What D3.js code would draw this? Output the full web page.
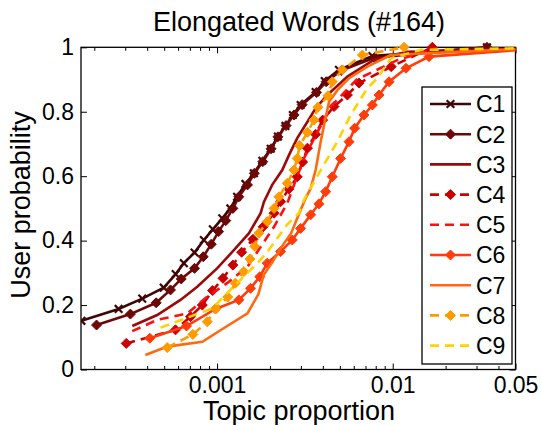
<!DOCTYPE html>
<html>
<head>
<meta charset="utf-8">
<script src="https://cdn.jsdelivr.net/npm/d3@7"></script>
<style>
  html, body { margin: 0; padding: 0; background: #fff; }
  svg { display: block; font-family: "Liberation Sans", Arial, sans-serif; }
</style>
</head>
<body>
<svg id="chart" width="542" height="425"></svg>
<script>
// ---- data ----
const seriesNames = ["C1", "C2", "C3", "C4", "C5", "C6", "C7", "C8", "C9"];
const seriesColors = ["#3f0606", "#6e0808", "#9a0a0a", "#cc0000", "#ff1010", "#ff3c0a", "#ff6a10", "#ff9a00", "#ffd200"];
const seriesDash = [false, false, false, true, true, false, false, true, true];
const seriesMarker = ["x", "d", null, "d", null, "d", null, "d", null];

const xTicks = [0.001, 0.01, 0.05];
const xTickLabels = ["0.001", "0.01", "0.05"];
const yTicks = [0, 0.2, 0.4, 0.6, 0.8, 1];
const yTickLabels = ["0", "0.2", "0.4", "0.6", "0.8", "1"];

const c1 = [[0.000169,0.151],[0.000275,0.188],[0.000375,0.22],[0.000497,0.254],[0.000581,0.296],[0.000647,0.33],[0.000744,0.363],[0.000841,0.402],[0.000946,0.435],[0.00107,0.469],[0.00119,0.5],[0.0013,0.536],[0.00145,0.576],[0.00162,0.609],[0.00181,0.648],[0.00202,0.685],[0.00222,0.723],[0.00245,0.756],[0.0027,0.79],[0.00299,0.821],[0.00364,0.861],[0.0041,0.895],[0.00494,0.93],[0.00766,0.973],[0.0344,1.0]];
const c2 = [[0.000206,0.138],[0.000321,0.172],[0.00045,0.207],[0.000543,0.247],[0.000625,0.281],[0.000744,0.314],[0.000834,0.35],[0.000927,0.389],[0.00102,0.428],[0.00112,0.462],[0.00123,0.5],[0.00133,0.536],[0.00149,0.573],[0.00163,0.609],[0.00182,0.645],[0.00203,0.685],[0.00222,0.722],[0.00247,0.757],[0.00274,0.79],[0.00305,0.822],[0.00368,0.86],[0.00418,0.893],[0.0051,0.928],[0.0079,0.968],[0.0344,1.0]];
const c3 = [[0.000329,0.135],[0.000456,0.169],[0.000619,0.216],[0.000771,0.257],[0.00100,0.314],[0.00125,0.371],[0.00152,0.423],[0.00177,0.485],[0.00185,0.521],[0.00206,0.573],[0.00235,0.619],[0.00257,0.666],[0.00286,0.718],[0.00327,0.769],[0.00364,0.811],[0.00425,0.852],[0.00552,0.909],[0.00779,0.961],[0.0121,0.986],[0.07,0.998]];
const c4 = [[0.000304,0.081],[0.00058,0.123],[0.000706,0.164],[0.000824,0.2],[0.000943,0.245],[0.00108,0.283],[0.00123,0.324],[0.00138,0.364],[0.0016,0.404],[0.00183,0.443],[0.00211,0.485],[0.0023,0.521],[0.00256,0.56],[0.00286,0.598],[0.00307,0.644],[0.00327,0.687],[0.00364,0.73],[0.00399,0.774],[0.00463,0.816],[0.00552,0.852],[0.00643,0.889],[0.0098,0.94],[0.0168,1.0]];
const c5 = [[0.000329,0.119],[0.000456,0.154],[0.000676,0.174],[0.00088,0.226],[0.00114,0.268],[0.00149,0.319],[0.00177,0.381],[0.00211,0.443],[0.00251,0.516],[0.00312,0.655],[0.00443,0.815],[0.00623,0.9],[0.0106,0.96],[0.018,0.998]];
const c6 = [[0.000414,0.097],[0.00067,0.135],[0.00098,0.188],[0.00133,0.216],[0.00155,0.252],[0.00175,0.288],[0.00193,0.33],[0.0023,0.366],[0.00268,0.402],[0.00299,0.438],[0.00341,0.48],[0.0038,0.514],[0.00415,0.552],[0.00453,0.598],[0.00505,0.655],[0.00564,0.707],[0.00607,0.749],[0.00686,0.79],[0.00766,0.821],[0.00836,0.852],[0.00953,0.893],[0.0119,0.935],[0.0161,0.971],[0.075,0.998]];
const c7 = [[0.000391,0.045],[0.00052,0.071],[0.000824,0.086],[0.00109,0.128],[0.00149,0.174],[0.00172,0.234],[0.00184,0.293],[0.00207,0.334],[0.0023,0.376],[0.00264,0.423],[0.00299,0.495],[0.00319,0.531],[0.00341,0.562],[0.00364,0.619],[0.00389,0.707],[0.0041,0.769],[0.00434,0.831],[0.00484,0.867],[0.00564,0.904],[0.00717,0.94],[0.00974,0.976],[0.07,0.998]];
const c8 = [[0.00052,0.068],[0.000728,0.109],[0.00088,0.148],[0.00098,0.188],[0.00115,0.225],[0.00127,0.268],[0.00142,0.304],[0.00154,0.343],[0.00164,0.382],[0.00173,0.423],[0.00193,0.459],[0.00211,0.5],[0.00225,0.536],[0.00251,0.578],[0.00274,0.619],[0.00286,0.655],[0.00295,0.695],[0.00327,0.736],[0.00356,0.774],[0.00375,0.814],[0.00428,0.85],[0.00453,0.893],[0.00517,0.93],[0.00672,0.976],[0.0116,1.0]];
const c9 = [[0.000477,0.13],[0.000939,0.19],[0.0013,0.268],[0.00173,0.335],[0.00197,0.371],[0.00249,0.448],[0.00292,0.485],[0.00312,0.526],[0.00389,0.619],[0.00484,0.707],[0.00576,0.79],[0.00717,0.873],[0.00818,0.904],[0.00974,0.966],[0.0145,0.992],[0.07,0.998]];
const seriesData = [c1, c2, c3, c4, c5, c6, c7, c8, c9];

// ---- layout ----
const svg = d3.select("#chart");
const L = 81, R = 515.5, T = 47.3, B = 369.5;
const x = d3.scaleLog().domain([0.000168, 0.05]).range([L, R]);
const y = d3.scaleLinear().domain([0, 1]).range([B, T]);

// title
svg.append("text").attr("x", 299).attr("y", 31).attr("text-anchor", "middle")
  .attr("font-size", 27).attr("fill", "#000").text("Elongated Words (#164)");

// axes ticks
const minorX = [];
for (let d = 1e-4; d < 0.1; d *= 10) for (let k = 2; k <= 9; k++) {
  const v = +(k * d).toPrecision(3);
  if (v >= 0.000168 && v <= 0.05 && xTicks.indexOf(v) < 0) minorX.push(v);
}

const gx = svg.append("g").attr("transform", `translate(0,${B})`)
  .call(d3.axisBottom(x).tickValues(xTicks).tickFormat((d, i) => xTickLabels[i])
    .tickSizeInner(-6).tickSizeOuter(0).tickPadding(7));
gx.select(".domain").remove();
gx.selectAll("text").attr("font-size", 23).attr("fill", "#000").attr("font-family", "Liberation Sans, Arial, sans-serif");
gx.selectAll("line").attr("stroke", "#000");

const gxm = svg.append("g").attr("transform", `translate(0,${B})`)
  .call(d3.axisBottom(x).tickValues(minorX).tickFormat("").tickSizeInner(-3.5).tickSizeOuter(0));
gxm.select(".domain").remove();

const gxt = svg.append("g").attr("transform", `translate(0,${T})`)
  .call(d3.axisTop(x).tickValues(xTicks).tickFormat("").tickSizeInner(-6).tickSizeOuter(0));
gxt.select(".domain").remove();
const gxtm = svg.append("g").attr("transform", `translate(0,${T})`)
  .call(d3.axisTop(x).tickValues(minorX).tickFormat("").tickSizeInner(-3.5).tickSizeOuter(0));
gxtm.select(".domain").remove();

const gy = svg.append("g").attr("transform", `translate(${L},0)`)
  .call(d3.axisLeft(y).tickValues(yTicks).tickFormat((d, i) => yTickLabels[i])
    .tickSizeInner(-6).tickSizeOuter(0).tickPadding(7));
gy.select(".domain").remove();
gy.selectAll("text").attr("font-size", 23).attr("fill", "#000").attr("font-family", "Liberation Sans, Arial, sans-serif");

const gyr = svg.append("g").attr("transform", `translate(${R},0)`)
  .call(d3.axisRight(y).tickValues(yTicks).tickFormat("").tickSizeInner(-6).tickSizeOuter(0));
gyr.select(".domain").remove();

// frame
svg.append("rect").attr("x", L).attr("y", T).attr("width", R - L).attr("height", B - T)
  .attr("fill", "none").attr("stroke", "#000").attr("stroke-width", 1.3);

// axis labels
svg.append("text").attr("x", 299).attr("y", 420).attr("text-anchor", "middle")
  .attr("font-size", 27).attr("fill", "#000").text("Topic proportion");
svg.append("text").attr("transform", "translate(30,205) rotate(-90)").attr("text-anchor", "middle")
  .attr("font-size", 27).attr("fill", "#000").text("User probability");

// series
svg.append("clipPath").attr("id", "clip").append("rect")
  .attr("x", L).attr("y", T - 6).attr("width", R - L).attr("height", B - T + 6);
const plot = svg.append("g").attr("clip-path", "url(#clip)");
const line = d3.line().x(d => x(d[0])).y(d => y(d[1]));

function drawMarker(g, type, cx, cy, color) {
  if (type === "d") {
    const s = 5;
    g.append("path").attr("d", `M${cx},${cy - s}L${cx + s},${cy}L${cx},${cy + s}L${cx - s},${cy}Z`)
      .attr("fill", color).attr("stroke", color).attr("stroke-width", 1);
  } else if (type === "x") {
    const s = 3.8;
    g.append("path").attr("d", `M${cx - s},${cy - s}L${cx + s},${cy + s}M${cx - s},${cy + s}L${cx + s},${cy - s}`)
      .attr("stroke", color).attr("stroke-width", 2.2).attr("fill", "none");
  }
}

seriesData.forEach((data, i) => {
  const g = plot.append("g");
  g.append("path").datum(data).attr("d", line).attr("fill", "none")
    .attr("stroke", seriesColors[i]).attr("stroke-width", 2.6)
    .attr("stroke-dasharray", seriesDash[i] ? "9,6" : null);
  if (seriesMarker[i]) data.forEach(d => drawMarker(g, seriesMarker[i], x(d[0]), y(d[1]), seriesColors[i]));
});

// legend
const lg = svg.append("g");
lg.append("rect").attr("x", 422).attr("y", 87).attr("width", 90).attr("height", 277)
  .attr("fill", "#fff").attr("stroke", "#000").attr("stroke-width", 1.3);
seriesNames.forEach((name, i) => {
  const cy = 104 + i * 30.2;
  lg.append("line").attr("x1", 430).attr("x2", 471).attr("y1", cy).attr("y2", cy)
    .attr("stroke", seriesColors[i]).attr("stroke-width", 2.6)
    .attr("stroke-dasharray", seriesDash[i] ? "9,6" : null);
  if (seriesMarker[i]) drawMarker(lg, seriesMarker[i], 450.5, cy, seriesColors[i]);
  lg.append("text").attr("x", 476).attr("y", cy + 8.3).attr("font-size", 23).attr("fill", "#000").text(name);
});
</script>
</body>
</html>
